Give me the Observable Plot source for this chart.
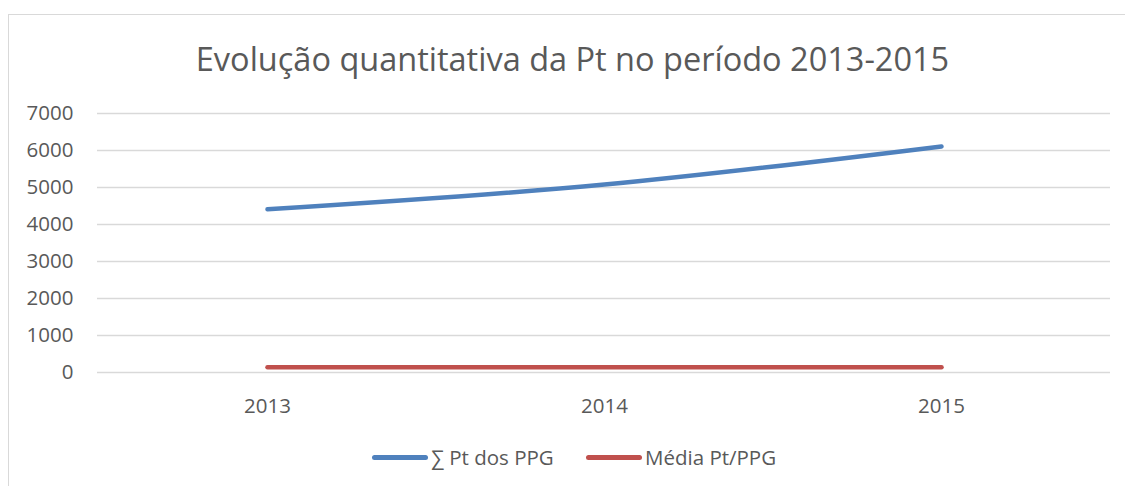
<!DOCTYPE html>
<html>
<head>
<meta charset="utf-8">
<script src="https://cdn.jsdelivr.net/npm/d3@7"></script>
<script src="https://cdn.jsdelivr.net/npm/@observablehq/plot@0.6"></script>
<style>
  html, body { margin: 0; padding: 0; background: #fff; }
  body { width: 1125px; height: 486px; position: relative; overflow: hidden; font-family: "Open Sans", sans-serif; }
  #frame { position: absolute; left: 8px; top: 14px; width: 1130px; height: 490px; border: 1px solid #d9d9d9; box-sizing: border-box; }
  #title { position: absolute; left: 0; top: 36px; width: 1145px; text-align: center; font-size: 32.5px; color: #595959; font-weight: 400; }
  #chart { position: absolute; left: 0; top: 95px; }
  #legend { position: absolute; top: 443px; left: 0; width: 1125px; height: 28px; font-size: 20.5px; color: #595959; }
  .item { position: absolute; top: 0; display: flex; align-items: center; height: 28px; }
  .sw { display: inline-block; width: 56px; height: 5px; border-radius: 3px; margin-right: 3px; }
</style>
</head>
<body>
<div id="frame"></div>
<div id="title">Evolução quantitativa da Pt no período 2013-2015</div>
<div id="chart"></div>
<div id="legend"></div>
<script>
const years = ["2013", "2014", "2015"];
const sumPt = [4410, 5080, 6110];
const mediaPt = [145, 145, 145];
const seriesNames = ["∑ Pt dos PPG", "Média Pt/PPG"];
const seriesColors = ["#4f81bd", "#c0504d"];
const yTicks = [0, 1000, 2000, 3000, 4000, 5000, 6000, 7000];

const data = [];
years.forEach((y, i) => data.push({year: y, value: sumPt[i], series: seriesNames[0]}));
years.forEach((y, i) => data.push({year: y, value: mediaPt[i], series: seriesNames[1]}));

const plot = Plot.plot({
  width: 1125,
  height: 330,
  marginLeft: 97,
  marginRight: 15,
  marginTop: 18,
  marginBottom: 53,
  style: { fontFamily: "Open Sans, sans-serif", fontSize: "20px", color: "#595959", background: "transparent" },
  x: { type: "point", domain: years, padding: 0.5, align: 0.5, label: null },
  y: { domain: [0, 7000], ticks: yTicks, label: null },
  color: { domain: seriesNames, range: seriesColors },
  marks: [
    Plot.gridY(yTicks, { stroke: "#d9d9d9", strokeOpacity: 1, strokeWidth: 1.5 }),
    Plot.axisY(yTicks, { tickSize: 0, tickPadding: 24, tickFormat: d => String(d), fontSize: 20.5, fill: "#595959" }),
    Plot.axisX({ tickSize: 0, tickPadding: 26, fontSize: 20.5, fill: "#595959" }),
    Plot.line(data, { x: "year", y: "value", stroke: "series", z: "series", strokeWidth: 4.5, curve: "catmull-rom", strokeLinecap: "round", strokeLinejoin: "round" })
  ]
});
document.getElementById("chart").appendChild(plot);

const legend = document.getElementById("legend");
const lefts = [372, 586];
seriesNames.forEach((n, i) => {
  const it = document.createElement("div");
  it.className = "item";
  it.style.left = lefts[i] + "px";
  const sw = document.createElement("span");
  sw.className = "sw";
  sw.style.background = seriesColors[i];
  it.appendChild(sw);
  const t = document.createElement("span");
  t.textContent = n;
  it.appendChild(t);
  legend.appendChild(it);
});
</script>
</body>
</html>
